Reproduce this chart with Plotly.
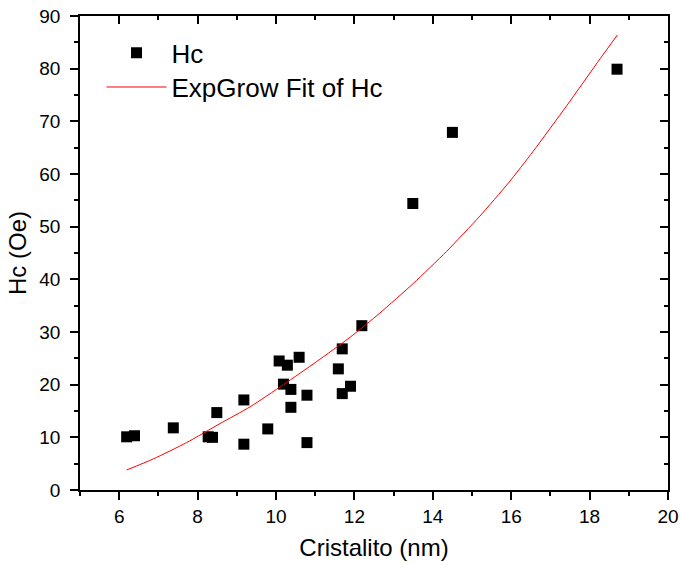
import plotly.graph_objects as go

# Data
cristalito = [6.19, 6.39, 7.38, 8.27, 8.38, 8.49, 9.18, 9.18, 9.79, 10.08, 10.29, 10.19,
              10.38, 10.38, 10.59, 10.79, 10.79, 11.59, 11.69, 11.69, 11.90, 12.19,
              13.49, 14.50, 18.70]
hc = [10.1, 10.3, 11.8, 10.1, 10.0, 14.7, 17.1, 8.7, 11.6, 24.5, 23.7, 20.1,
      19.1, 15.7, 25.2, 18.0, 9.0, 23.0, 26.8, 18.3, 19.7, 31.2,
      54.4, 67.9, 79.9]

# ExpGrow fit curve, sampled by reading the reference picture
fit_x = [6.19, 6.87, 7.72, 8.57, 9.34, 10.19, 11.04, 11.89, 12.65, 13.50, 14.35,
         15.20, 15.93, 16.56, 17.42, 18.27, 18.71]
fit_y = [3.8, 5.9, 9.0, 12.6, 15.8, 20.0, 24.4, 29.0, 33.6, 39.2, 45.3,
         52.0, 58.3, 64.3, 73.0, 81.9, 86.4]

x_ticks = [6, 8, 10, 12, 14, 16, 18, 20]
y_ticks = [0, 10, 20, 30, 40, 50, 60, 70, 80, 90]

FONT = "Arial, 'Liberation Sans', sans-serif"

fig = go.Figure()
fig.add_trace(go.Scatter(x=cristalito, y=hc, mode="markers", name="Hc", legend="legend",
                         marker=dict(symbol="square", size=11, color="black")))
fig.add_trace(go.Scatter(x=fit_x, y=fit_y, mode="lines", name="ExpGrow Fit of Hc",
                         legend="legend2",
                         line=dict(color="red", width=1, shape="spline", smoothing=0.6)))
# invisible trace for mirrored axes
fig.add_trace(go.Scatter(x=[None], y=[None], xaxis="x2", yaxis="y2", showlegend=False,
                         hoverinfo="skip"))

common = dict(showline=True, linecolor="black", linewidth=1.5, showgrid=False,
              zeroline=False, tickcolor="black", tickwidth=1.5, automargin=False,
              tickfont=dict(family=FONT, size=19, color="black"))

legend_common = dict(xanchor="left", yanchor="middle", bgcolor="rgba(0,0,0,0)",
                     font=dict(family=FONT, size=26, color="black"), itemwidth=60)

fig.update_layout(
    width=681, height=565,
    margin=dict(l=80, r=13, t=16, b=75),
    paper_bgcolor="white", plot_bgcolor="white",
    font=dict(family=FONT, color="black"),
    xaxis=dict(range=[5, 20], tickvals=x_ticks, ticks="outside", ticklen=8,
               ticklabelstandoff=0,
               minor=dict(ticks="outside", dtick=1, ticklen=4, tickcolor="black", tickwidth=1.5),
               title=dict(text="Cristalito (nm)", font=dict(family=FONT, size=24), standoff=14),
               **common),
    yaxis=dict(range=[0, 90], tickvals=y_ticks, ticks="outside", ticklen=8,
               ticklabelstandoff=6,
               minor=dict(ticks="outside", dtick=5, ticklen=4, tickcolor="black", tickwidth=1.5),
               title=dict(text="Hc (Oe)", font=dict(family=FONT, size=24), standoff=6),
               **common),
    xaxis2=dict(range=[5, 20], overlaying="x", side="top", anchor="y2",
                tickvals=x_ticks, ticks="inside", ticklen=8, showticklabels=False,
                minor=dict(ticks="inside", dtick=1, ticklen=4, tickcolor="black", tickwidth=1.5),
                **common),
    yaxis2=dict(range=[0, 90], overlaying="y", side="right", anchor="x2",
                tickvals=y_ticks, ticks="inside", ticklen=8, showticklabels=False,
                minor=dict(ticks="inside", dtick=5, ticklen=4, tickcolor="black", tickwidth=1.5),
                **common),
    legend=dict(x=0.0366, y=0.922, **legend_common),
    legend2=dict(x=0.0366, y=0.850, **legend_common),
    showlegend=True,
)

# remove the default page margin so the figure sits at the window's top-left corner
fig.write_html("out.html", config={"displayModeBar": False},
               post_script="document.body.style.margin='0';document.body.style.overflow='hidden';")
